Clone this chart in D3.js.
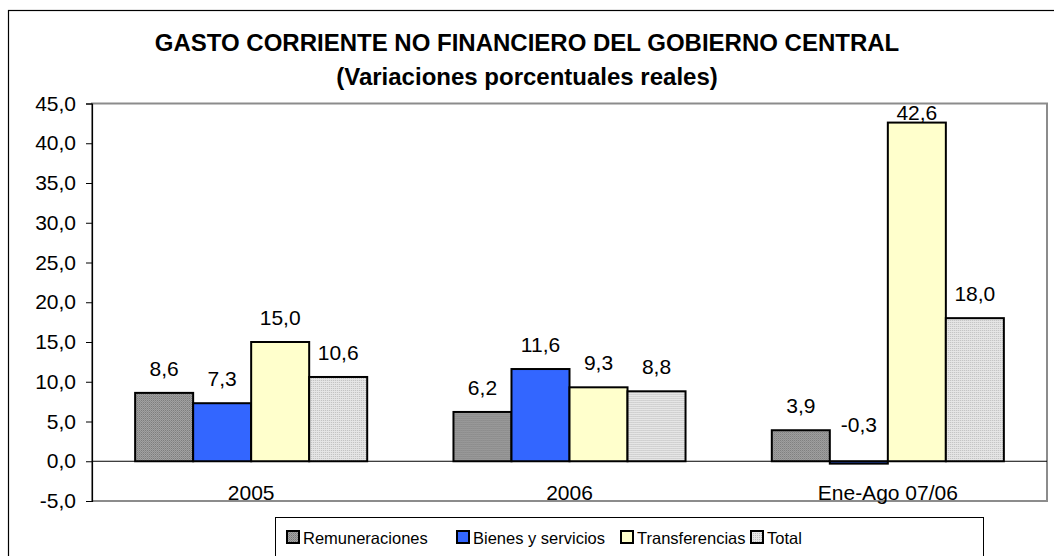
<!DOCTYPE html>
<html>
<head>
<meta charset="utf-8">
<script src="https://cdn.jsdelivr.net/npm/d3@7"></script>
<style>
  body { margin: 0; background: #fff; }
  svg { display: block; font-family: "Liberation Sans", Arial, sans-serif; }
</style>
</head>
<body>
<div id="chart"></div>
<script>
// Data
const categories = ["2005", "2006", "Ene-Ago 07/06"];
const seriesNames = ["Remuneraciones", "Bienes y servicios", "Transferencias", "Total"];
const remuneraciones = [8.6, 6.2, 3.9];
const bienes = [7.3, 11.6, -0.3];
const transferencias = [15.0, 9.3, 42.6];
const total = [10.6, 8.8, 18.0];
const yTicks = [-5, 0, 5, 10, 15, 20, 25, 30, 35, 40, 45];

const seriesValues = [remuneraciones, bienes, transferencias, total];

const width = 1054, height = 556;
const plot = { left: 92, right: 1047, top: 103.5, bottom: 501 };

const locale = d3.formatLocale({ decimal: ",", thousands: ".", grouping: [3], currency: ["", ""], minus: "-" });
const fmt = locale.format(".1f");

const svg = d3.select("#chart").append("svg")
  .attr("width", width)
  .attr("height", height);

// fill patterns for the gray series
const defs = svg.append("defs");
const pat1 = defs.append("pattern")
  .attr("id", "pat-rem").attr("width", 2).attr("height", 2)
  .attr("patternUnits", "userSpaceOnUse");
pat1.append("rect").attr("width", 2).attr("height", 2).attr("fill", "#a6a6a6");
pat1.append("rect").attr("width", 1).attr("height", 1).attr("fill", "#777");
pat1.append("rect").attr("x", 1).attr("y", 1).attr("width", 1).attr("height", 1).attr("fill", "#8a8a8a");

const pat2 = defs.append("pattern")
  .attr("id", "pat-tot").attr("width", 2).attr("height", 2)
  .attr("patternUnits", "userSpaceOnUse");
pat2.append("rect").attr("width", 2).attr("height", 2).attr("fill", "#e6e6e6");
pat2.append("rect").attr("width", 1).attr("height", 1).attr("fill", "#bdbdbd");

const fills = ["url(#pat-rem)", "#3366ff", "#ffffcc", "url(#pat-tot)"];

// outer chart border (runs off the right and bottom of the picture)
svg.append("rect")
  .attr("x", 8.5).attr("y", 10.5)
  .attr("width", 1200).attr("height", 700)
  .attr("fill", "none").attr("stroke", "#000").attr("stroke-width", 1.2);

// title
svg.append("text")
  .attr("x", 527).attr("y", 51)
  .attr("text-anchor", "middle")
  .style("font-size", "24px").style("font-weight", "bold")
  .text("GASTO CORRIENTE NO FINANCIERO DEL GOBIERNO CENTRAL");
svg.append("text")
  .attr("x", 527).attr("y", 85)
  .attr("text-anchor", "middle")
  .style("font-size", "24px").style("font-weight", "bold")
  .text("(Variaciones porcentuales reales)");

// scales
const y = d3.scaleLinear().domain([-5, 45]).range([plot.bottom, plot.top]);
const x0 = d3.scaleBand().domain(categories)
  .range([plot.left, plot.right])
  .paddingInner(0.271).paddingOuter(0.1355);
const x1 = d3.scaleBand().domain(d3.range(seriesNames.length))
  .range([0, x0.bandwidth()]);

// plot area frame (gray)
svg.append("rect")
  .attr("x", plot.left).attr("y", plot.top)
  .attr("width", plot.right - plot.left).attr("height", plot.bottom - plot.top)
  .attr("fill", "none").attr("stroke", "#8c8c8c").attr("stroke-width", 2);

// y axis
const yAxis = d3.axisLeft(y).tickValues(yTicks).tickFormat(fmt).tickSize(6).tickPadding(10);
const gy = svg.append("g")
  .attr("transform", `translate(${plot.left},0)`)
  .call(yAxis);
gy.select(".domain").attr("stroke", "#000").attr("stroke-width", 1.2);
gy.selectAll(".tick line").attr("stroke", "#000");
gy.selectAll("text")
  .style("font-size", "21px").style("font-family", "Liberation Sans, Arial, sans-serif")
  .attr("fill", "#000");

// zero line
svg.append("line")
  .attr("x1", plot.left).attr("x2", plot.right)
  .attr("y1", y(0)).attr("y2", y(0))
  .attr("stroke", "#000").attr("stroke-width", 1);

// bars
const groups = svg.selectAll("g.cat")
  .data(categories)
  .enter().append("g")
  .attr("class", "cat")
  .attr("transform", d => `translate(${x0(d)},0)`);

groups.selectAll("rect")
  .data((c, ci) => seriesValues.map((vals, si) => ({ si, v: vals[ci] })))
  .enter().append("rect")
  .attr("x", d => x1(d.si))
  .attr("y", d => y(Math.max(0, d.v)))
  .attr("width", x1.bandwidth())
  .attr("height", d => Math.abs(y(d.v) - y(0)))
  .attr("fill", d => fills[d.si])
  .attr("stroke", "#000")
  .attr("stroke-width", 2);

// value labels
groups.selectAll("text.val")
  .data((c, ci) => seriesValues.map((vals, si) => ({ si, v: vals[ci] })))
  .enter().append("text")
  .attr("class", "val")
  .attr("x", d => x1(d.si) + x1.bandwidth() / 2)
  .attr("y", d => d.v < 0 ? y(0) - 29 : Math.max(y(d.v) - 17, plot.top + 16))
  .attr("text-anchor", "middle")
  .style("font-size", "21px")
  .text(d => fmt(d.v));

// category labels
svg.selectAll("text.cat")
  .data(categories)
  .enter().append("text")
  .attr("class", "cat")
  .attr("x", d => x0(d) + x0.bandwidth() / 2)
  .attr("y", 500)
  .attr("text-anchor", "middle")
  .style("font-size", "21px")
  .text(d => d);

// legend
const legend = svg.append("g");
legend.append("rect")
  .attr("x", 275.5).attr("y", 517.5)
  .attr("width", 708).attr("height", 80)
  .attr("fill", "#fff").attr("stroke", "#000").attr("stroke-width", 1);

const legendX = [287, 457, 621, 751];
const items = legend.selectAll("g.item")
  .data(seriesNames)
  .enter().append("g")
  .attr("transform", (d, i) => `translate(${legendX[i]},531)`);
items.append("rect")
  .attr("width", 12).attr("height", 12)
  .attr("fill", (d, i) => fills[i])
  .attr("stroke", "#000").attr("stroke-width", 2);
items.append("text")
  .attr("x", 16).attr("y", 13)
  .style("font-size", "16.5px")
  .text(d => d);
</script>
</body>
</html>
